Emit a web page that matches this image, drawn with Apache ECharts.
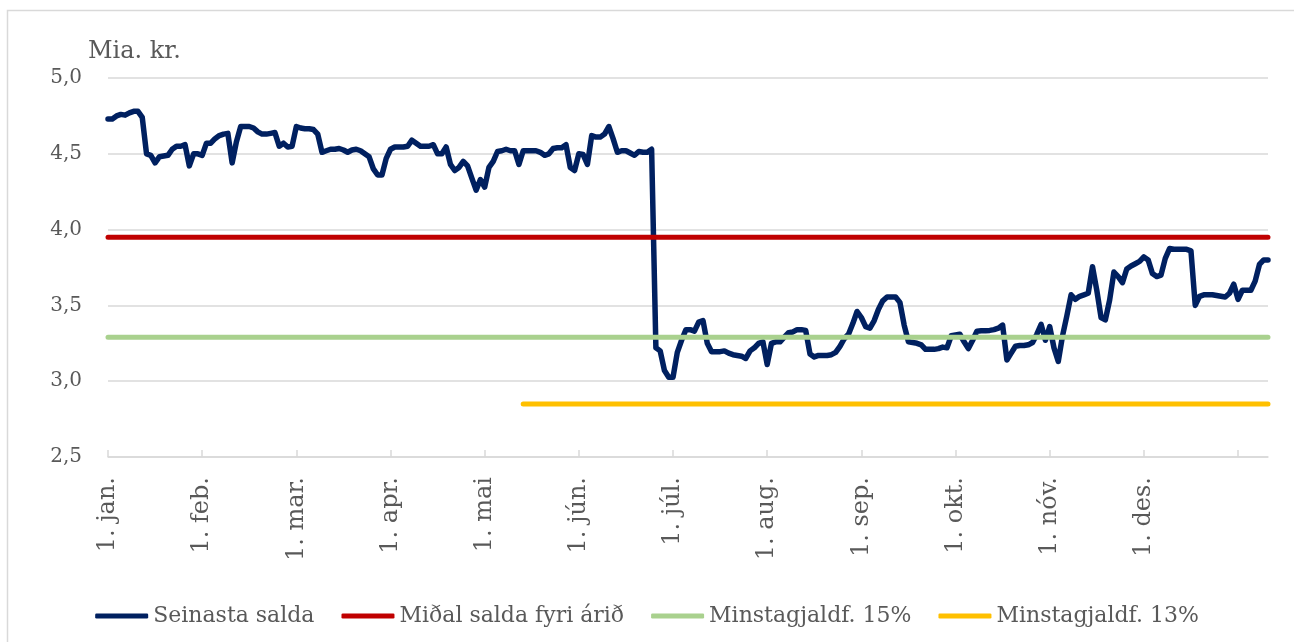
<!DOCTYPE html>
<html>
<head>
<meta charset="utf-8">
<script src="https://cdn.jsdelivr.net/npm/echarts@6/dist/echarts.min.js"></script>
<style>
  html, body { margin: 0; padding: 0; background: #fff; }
  #chart { width: 1294px; height: 642px; }
</style>
</head>
<body>
<div id="chart"></div>
<script>
// manaðarheiti á x-ás (eitt merki á 22 punkta fresti)
var monthLabels = ['1. jan.', '1. feb.', '1. mar.', '1. apr.', '1. mai', '1. jún.',
                   '1. júl.', '1. aug.', '1. sep.', '1. okt.', '1. nóv.', '1. des.'];
var labelStep = 22;

// Seinasta salda, Mia. kr.
var lastBalance = [
  4.73, 4.73, 4.75, 4.76, 4.755, 4.77, 4.78, 4.78, 4.74, 4.50,
  4.49, 4.44, 4.48, 4.485, 4.49, 4.53, 4.55, 4.55, 4.56, 4.42,
  4.50, 4.50, 4.49, 4.57, 4.57, 4.60, 4.62, 4.63, 4.635, 4.44,
  4.58, 4.68, 4.68, 4.68, 4.67, 4.645, 4.63, 4.63, 4.635, 4.64,
  4.55, 4.57, 4.545, 4.55, 4.68, 4.67, 4.665, 4.665, 4.66, 4.63,
  4.51, 4.52, 4.53, 4.53, 4.535, 4.525, 4.51, 4.525, 4.53, 4.52,
  4.50, 4.48, 4.40, 4.36, 4.36, 4.47, 4.53, 4.545, 4.545, 4.545,
  4.55, 4.59, 4.57, 4.55, 4.55, 4.55, 4.56, 4.50, 4.50, 4.545,
  4.43, 4.39, 4.41, 4.45, 4.42, 4.34, 4.26, 4.33, 4.28, 4.41,
  4.45, 4.515, 4.52, 4.53, 4.52, 4.52, 4.43, 4.52, 4.52, 4.52,
  4.52, 4.51, 4.49, 4.50, 4.535, 4.54, 4.54, 4.56, 4.41, 4.39,
  4.50, 4.495, 4.43, 4.62, 4.61, 4.61, 4.63, 4.68, 4.60, 4.51,
  4.52, 4.52, 4.505, 4.49, 4.515, 4.51, 4.51, 4.53, 3.22, 3.20,
  3.07, 3.026, 3.026, 3.19, 3.27, 3.34, 3.34, 3.33, 3.39, 3.40,
  3.25, 3.195, 3.195, 3.195, 3.20, 3.185, 3.175, 3.17, 3.165, 3.15,
  3.20, 3.22, 3.25, 3.26, 3.11, 3.25, 3.26, 3.26, 3.29, 3.32,
  3.325, 3.34, 3.34, 3.335, 3.18, 3.16, 3.17, 3.17, 3.17, 3.175,
  3.19, 3.23, 3.28, 3.31, 3.38, 3.46, 3.42, 3.36, 3.35, 3.40,
  3.475, 3.53, 3.555, 3.555, 3.555, 3.52, 3.37, 3.26, 3.255, 3.25,
  3.24, 3.21, 3.21, 3.21, 3.215, 3.225, 3.22, 3.30, 3.305, 3.31,
  3.26, 3.215, 3.27, 3.33, 3.333, 3.333, 3.335, 3.34, 3.35, 3.37,
  3.14, 3.185, 3.23, 3.235, 3.235, 3.24, 3.255, 3.31, 3.375, 3.27,
  3.36, 3.22, 3.13, 3.30, 3.43, 3.57, 3.54, 3.56, 3.57, 3.58,
  3.755, 3.60, 3.42, 3.404, 3.535, 3.72, 3.69, 3.65, 3.74, 3.76,
  3.775, 3.79, 3.82, 3.80, 3.71, 3.69, 3.70, 3.81, 3.875, 3.87,
  3.87, 3.87, 3.87, 3.86, 3.50, 3.56, 3.57, 3.57, 3.57, 3.565,
  3.56, 3.555, 3.58, 3.64, 3.54, 3.60, 3.60, 3.60, 3.66, 3.77,
  3.80, 3.80
];

var avgPrevYear = 3.95;   // Miðal salda fyri árið
var minReserve15 = 3.29;  // Minstagjaldf. 15%
var minReserve13 = 2.85;  // Minstagjaldf. 13%
var min13Start = 97;      // 13% linjan byrjar í mai

var n = lastBalance.length;
var categories = [];
for (var i = 0; i < n; i++) {
  var m = i / labelStep;
  categories.push(i % labelStep === 0 && m < monthLabels.length ? monthLabels[m] : '');
}
var avgLine = lastBalance.map(function () { return avgPrevYear; });
var min15Line = lastBalance.map(function () { return minReserve15; });
var min13Line = lastBalance.map(function (v, i) { return i >= min13Start ? minReserve13 : null; });

var font = 'DejaVu Serif';
var grey = '#595959';

var myChart = echarts.init(document.getElementById('chart'));
var option = {
  animation: false,
  title: {
    text: 'Mia. kr.',
    left: 83,
    top: 35,
    textStyle: { fontFamily: font, fontSize: 24, fontWeight: 'normal', color: grey }
  },
  graphic: [{
    type: 'polyline',
    shape: { points: [[7.5, 660], [7.5, 10.5], [1300, 10.5]] },
    style: { stroke: '#d9d9d9', lineWidth: 1.5, fill: null },
    silent: true
  }],
  grid: { left: 108, right: 26, top: 78, bottom: 185, containLabel: false },
  legend: {
    bottom: 10,
    left: 'center',
    itemWidth: 53,
    itemHeight: 5,
    itemGap: 27,
    icon: 'roundRect',
    textStyle: { fontFamily: font, fontSize: 22, color: grey },
    data: ['Seinasta salda', 'Miðal salda fyri árið', 'Minstagjaldf. 15%', 'Minstagjaldf. 13%']
  },
  xAxis: {
    type: 'category',
    data: categories,
    boundaryGap: false,
    axisLine: { lineStyle: { color: '#d9d9d9', width: 1.5 } },
    axisTick: { interval: labelStep - 1, inside: true, length: 7, lineStyle: { color: '#d9d9d9', width: 1.5 } },
    axisLabel: {
      interval: labelStep - 1,
      rotate: 90,
      margin: 20,
      fontFamily: font,
      fontSize: 24,
      color: grey
    },
    splitLine: { show: false }
  },
  yAxis: {
    type: 'value',
    min: 2.5,
    max: 5,
    interval: 0.5,
    axisLine: { show: false },
    axisTick: { show: false },
    axisLabel: {
      margin: 26,
      fontFamily: font,
      fontSize: 20,
      color: grey,
      formatter: function (v) { return v.toFixed(1).replace('.', ','); }
    },
    splitLine: { lineStyle: { color: '#d9d9d9', width: 1.5 } }
  },
  series: [
    {
      name: 'Seinasta salda', type: 'line', data: lastBalance,
      showSymbol: false, symbol: 'none', color: '#002060',
      lineStyle: { width: 5.5, color: '#002060', cap: 'round', join: 'round' }
    },
    {
      name: 'Miðal salda fyri árið', type: 'line', data: avgLine,
      showSymbol: false, symbol: 'none', color: '#C00000',
      lineStyle: { width: 5, color: '#C00000', cap: 'round' }
    },
    {
      name: 'Minstagjaldf. 15%', type: 'line', data: min15Line,
      showSymbol: false, symbol: 'none', color: '#A9D18E',
      lineStyle: { width: 5, color: '#A9D18E', cap: 'round' }
    },
    {
      name: 'Minstagjaldf. 13%', type: 'line', data: min13Line,
      showSymbol: false, symbol: 'none', color: '#FFC000',
      lineStyle: { width: 5, color: '#FFC000', cap: 'round' }
    }
  ]
};
myChart.setOption(option);
</script>
</body>
</html>
